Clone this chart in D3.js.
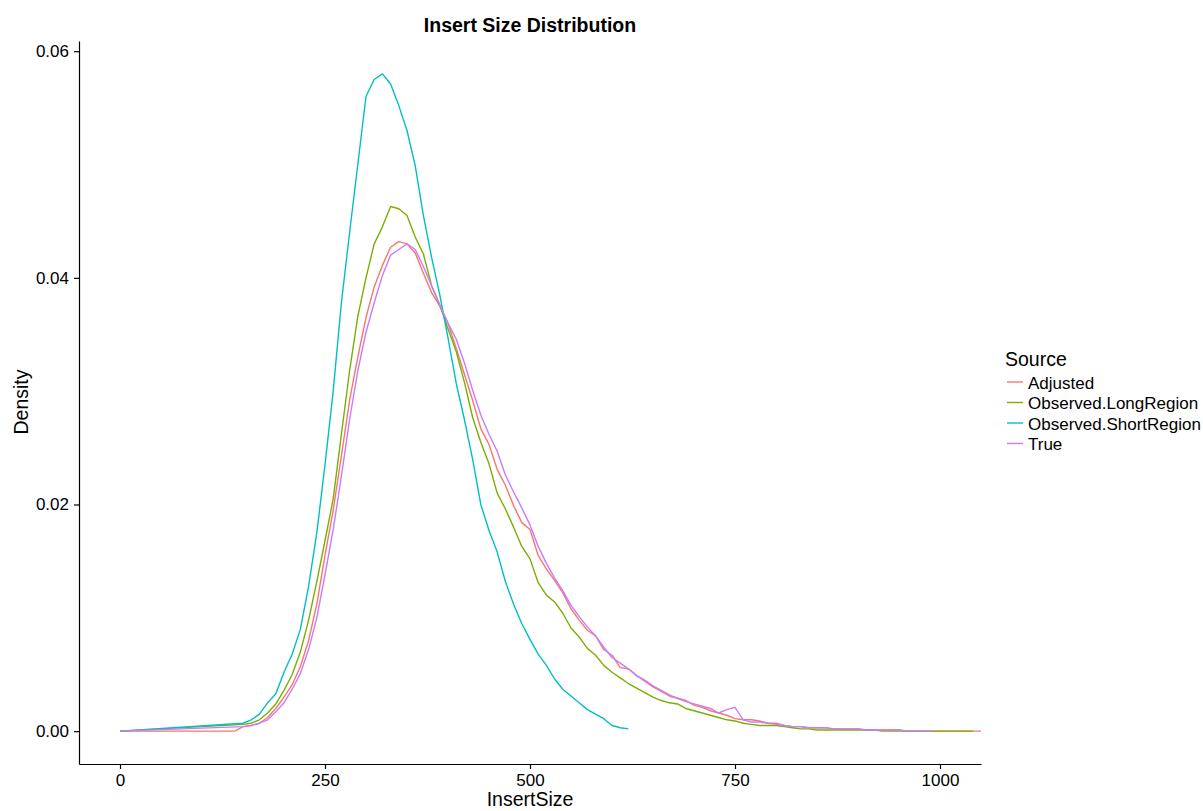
<!DOCTYPE html>
<html>
<head>
<meta charset="utf-8">
<script src="https://cdnjs.cloudflare.com/ajax/libs/d3/7.8.5/d3.min.js"></script>
<style>
  body { margin: 0; background: #fff; }
  svg { display: block; font-family: "Liberation Sans", Arial, Helvetica, sans-serif; }
  .axis path, .axis line { stroke: #000; stroke-width: 1.2; }
  .axis text { font-size: 17px; fill: #000; }
</style>
</head>
<body>
<svg></svg>
<script>
let w = 1203;
let h = 811;

// Data
const insertSize = [0, 140,
  150, 160, 170, 180, 190, 200, 210, 220, 230, 240,
  250, 260, 270, 280, 290, 300, 310, 320, 330, 340,
  350, 360, 370, 380, 390, 400, 410, 420, 430, 440,
  450, 460, 470, 480, 490, 500, 510, 520, 530, 540,
  550, 560, 570, 580, 590, 600, 610, 620, 630, 640,
  650, 660, 670, 680, 690, 700, 710, 720, 730, 740,
  750, 760, 770, 780, 790, 800, 810, 820, 830, 840,
  850, 860, 870, 880, 890, 900, 910, 920, 930, 940,
  950, 960, 970, 980, 990, 1000, 1010, 1020, 1030, 1040,
  1050];

const adjusted = [0, 0,
  .0004, .0005, .0007, .0012, .0020, .0030, .0041, .0057, .0080, .0112,
  .0155, .0195, .0243, .0292, .0330, .0365, .0392, .0411, .0427, .0432,
  .0430, .0422, .0404, .0387, .0375, .0360, .0338, .0315, .0292, .0267,
  .0253, .0231, .0217, .0199, .0184, .0178, .0155, .0143, .0133, .0122,
  .0108, .0098, .0089, .0084, .0072, .0067, .0056, .0055, .0049, .0044,
  .0039, .0035, .0031, .0029, .0027, .0023, .0021, .0018, .0016, .0014,
  .0011, .0010, .0010, .0009, .0007, .0007, .0005, .0004, .0004, .0003,
  .0003, .0003, .0002, .0002, .0002, .0002, .0001, .0001, .0001, .0001,
  .0001, .0000, .0000, .0000, .0000, .0000, .0000, .0000, .0000, .0000,
  .0000];

const observedLong = [0, null,
  .0006, .0007, .0010, .0016, .0024, .0036, .0050, .0070, .0098, .0132,
  .0168, .0205, .0262, .0318, .0366, .0400, .0430, .0445, .0463, .0461,
  .0455, .0436, .0421, .0393, .0376, .0355, .0335, .0308, .0277, .0255,
  .0236, .0210, .0196, .0180, .0163, .0152, .0131, .0120, .0114, .0104,
  .0091, .0083, .0073, .0067, .0058, .0052, .0047, .0042, .0038, .0034,
  .0030, .0027, .0025, .0024, .0020, .0018, .0016, .0014, .0012, .0010,
  .0009, .0007, .0006, .0005, .0005, .0005, .0004, .0003, .0002, .0002,
  .0001, .0001, .0001, .0001, .0001, .0001, .0001, .0001, .0000, .0000,
  .0000, .0000, .0000, .0000, .0000, .0000, .0000, .0000, .0000, .0000,
  null];

const observedShort = [0, null,
  .0007, .0010, .0015, .0025, .0033, .0052, .0068, .0090, .0128, .0175,
  .0235, .0300, .0378, .0440, .0500, .0560, .0575, .0580, .0571, .0552,
  .0530, .0499, .0455, .0418, .0385, .0347, .0307, .0275, .0240, .0200,
  .0177, .0158, .0132, .0112, .0095, .0081, .0068, .0058, .0046, .0037,
  .0031, .0025, .0019, .0015, .0011, .0005, .0003, .0002, null, null,
  null, null, null, null, null, null, null, null, null, null,
  null, null, null, null, null, null, null, null, null, null,
  null, null, null, null, null, null, null, null, null, null,
  null, null, null, null, null, null, null, null, null, null,
  null];

const trueDist = [0, null,
  .0004, .0005, .0007, .0010, .0017, .0025, .0037, .0051, .0072, .0100,
  .0138, .0178, .0225, .0275, .0318, .0352, .0378, .0402, .0420, .0425,
  .0430, .0425, .0410, .0393, .0376, .0360, .0346, .0325, .0301, .0279,
  .0262, .0247, .0226, .0211, .0197, .0182, .0163, .0148, .0135, .0124,
  .0111, .0101, .0092, .0084, .0074, .0065, .0060, .0055, .0049, .0045,
  .0040, .0036, .0032, .0029, .0026, .0024, .0022, .0020, .0016, .0019,
  .0021, .0010, .0008, .0008, .0007, .0006, .0005, .0004, .0004, .0003,
  .0003, .0003, .0002, .0002, .0002, .0002, .0001, .0001, .0001, .0001,
  .0001, .0000, .0000, .0000, .0000, null, null, null, null, null,
  null];

const seriesNames = ['Adjusted', 'Observed.LongRegion', 'Observed.ShortRegion', 'True'];
const seriesValues = [adjusted, observedLong, observedShort, trueDist];
const seriesColors = ['#F8766D', '#7CAE00', '#00BFC4', '#C77CFF'];

const xTicks = [0, 250, 500, 750, 1000];
const yTicks = [0, 0.02, 0.04, 0.06];

const svg = d3.select('svg')
  .attr('width', w)
  .attr('height', h)

// Scales
const xScale = d3.scaleLinear()
  .domain([-50, 1050])
  .range([79, 981])

const yScale = d3.scaleLinear()
  .domain([-0.0029, 0.0609])
  .range([764, 41])

svg.append('clipPath')
  .attr('id', 'panel')
  .append('rect')
  .attr('x', 79).attr('y', 41)
  .attr('width', 902).attr('height', 723)

// Lines
const line = d3.line()
  .x(d => xScale(d.x))
  .y(d => yScale(d.y))

const series = seriesNames.map((name, i) => ({
  name: name,
  color: seriesColors[i],
  points: insertSize.map((x, j) => ({x: x, y: seriesValues[i][j]})).filter(d => d.y != null)
}))

svg.append('g')
  .attr('clip-path', 'url(#panel)')
  .selectAll('path')
  .data(series)
  .enter()
  .append('path')
  .attr('d', d => line(d.points))
  .style('fill', 'none')
  .style('stroke', d => d.color)
  .style('stroke-width', 1.4)
  .style('stroke-linejoin', 'round')

// Axes
const xAxis = d3.axisBottom(xScale)
  .tickValues(xTicks)
  .tickFormat(d => String(d))
  .tickSize(5)
  .tickSizeOuter(0)
  .tickPadding(5)

svg.append('g')
  .attr('class', 'axis')
  .attr('transform', 'translate(0,764)')
  .call(xAxis)

const yAxis = d3.axisLeft(yScale)
  .tickValues(yTicks)
  .tickFormat(d3.format('.2f'))
  .tickSize(5)
  .tickSizeOuter(0)
  .tickPadding(5)

svg.append('g')
  .attr('class', 'axis')
  .attr('transform', 'translate(79,0)')
  .call(yAxis)

svg.selectAll('.axis').attr('font-size', null).attr('font-family', null)

// Titles
svg.append('text')
  .attr('x', 530)
  .attr('y', 32)
  .attr('text-anchor', 'middle')
  .style('font-size', '19.5px')
  .style('font-weight', 'bold')
  .text('Insert Size Distribution')

svg.append('text')
  .attr('x', 530)
  .attr('y', 806)
  .attr('text-anchor', 'middle')
  .style('font-size', '19.5px')
  .text('InsertSize')

svg.append('text')
  .attr('transform', 'translate(28,402) rotate(-90)')
  .attr('text-anchor', 'middle')
  .style('font-size', '19.5px')
  .text('Density')

// Legend
const legend = svg.append('g')
  .attr('transform', 'translate(1005,0)')

legend.append('text')
  .attr('x', 0)
  .attr('y', 366)
  .style('font-size', '19.5px')
  .text('Source')

const items = legend.selectAll('g.item')
  .data(series)
  .enter()
  .append('g')
  .attr('class', 'item')
  .attr('transform', (d, i) => 'translate(0,' + (382 + i * 20.5) + ')')

items.append('line')
  .attr('x1', 2).attr('x2', 18)
  .attr('y1', 0).attr('y2', 0)
  .style('stroke', d => d.color)
  .style('stroke-width', 1.4)

items.append('text')
  .attr('x', 23)
  .attr('y', 6.5)
  .style('font-size', '17px')
  .text(d => d.name)
</script>
</body>
</html>
